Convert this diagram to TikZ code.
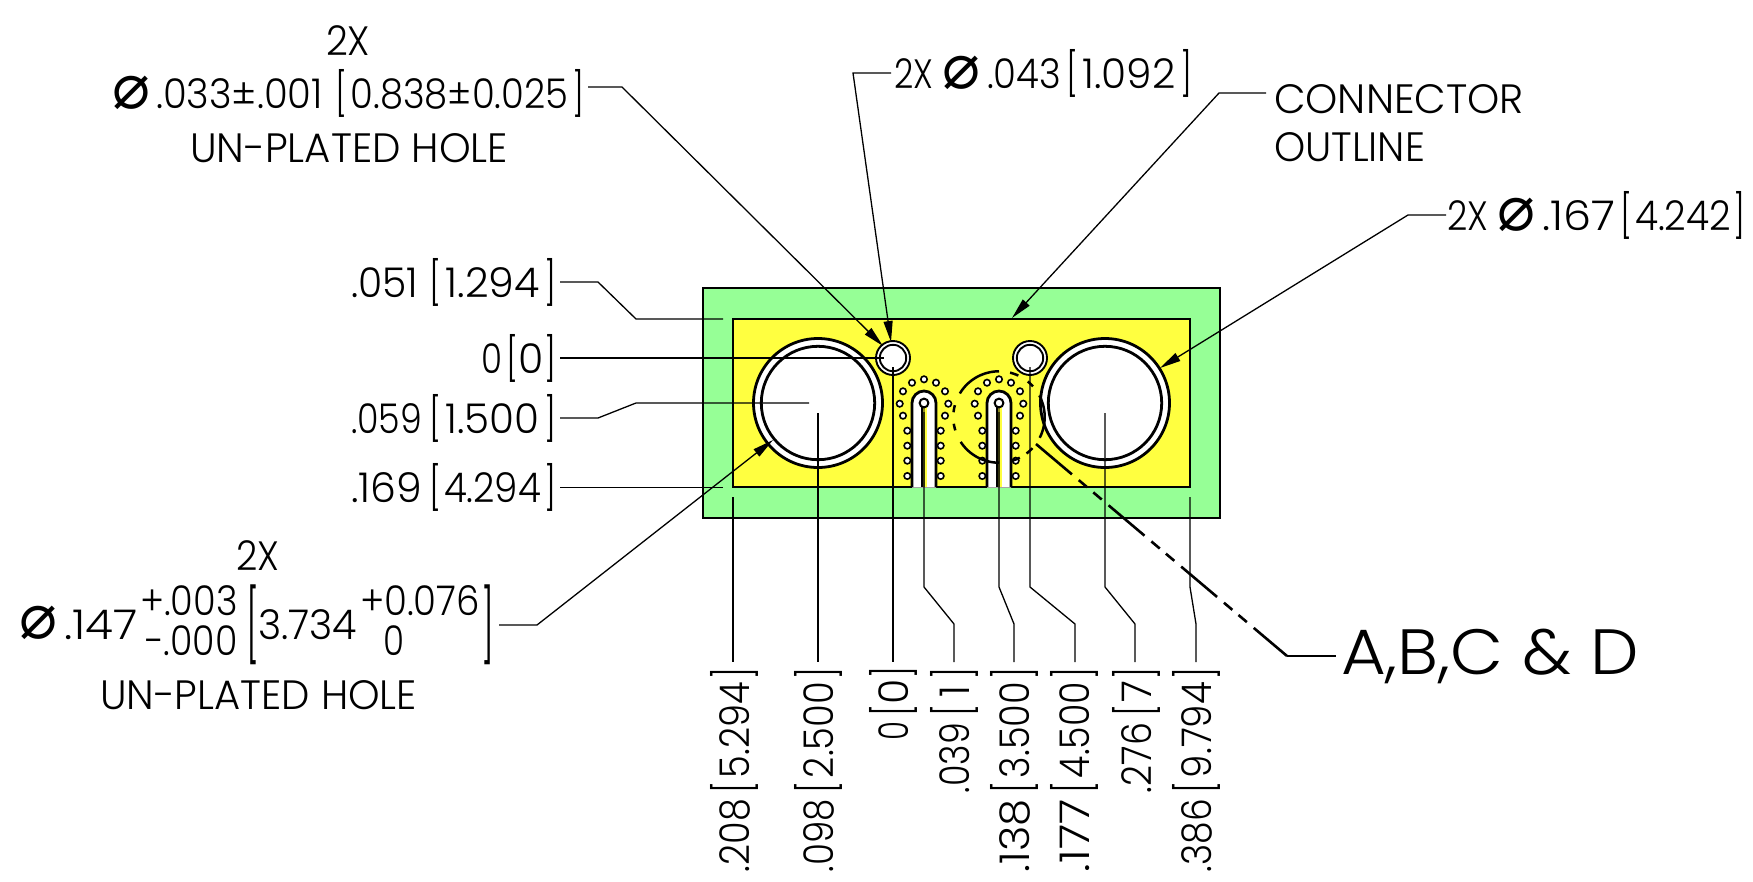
\documentclass[tikz,border=0pt]{standalone}
\usepackage{fontspec}
\usepackage{graphicx}
\usetikzlibrary{arrows.meta}
\setmainfont{Poppins}[UprightFont=* Light]
\newfontfamily\phifont{DejaVu Sans}
\definecolor{pcbgreen}{HTML}{96FF96}
\definecolor{pcbyellow}{HTML}{FFFF40}
\definecolor{stemolive}{HTML}{8C8A20}
\tikzset{
  txt/.style={inner sep=0pt,outer sep=0pt,font=\fontsize{41}{41}\selectfont},
  thin line/.style={draw=black,line width=1.3pt},
  heavy/.style={draw=black,line width=2.8pt},
  leader/.style={thin line,-{Stealth[inset=0pt,length=21pt,width=9pt]}},
  cutdash/.style={draw=black,line width=2.6pt,dash pattern=on 47pt off 9pt on 11pt off 8pt on 11pt off 9pt},
}
\newsavebox\brkbox
\newcommand\tallglyph[4]{\sbox\brkbox{\resizebox*{#2}{#3}{#1}}\raisebox{\dimexpr\dp\brkbox-#4\relax}{\usebox\brkbox}}
% \Br{total width}{inner width}{text}
\newcommand\Br[3]{\hbox to #1pt{\kern-4pt\tallglyph{[}{12pt}{48pt}{9pt}\hfil\resizebox{#2pt}{\height}{#3}\hfil\tallglyph{]}{12pt}{48pt}{9pt}\kern-4pt}}
\newcommand\BrN[2]{\hbox to #1pt{\kern-4pt\tallglyph{[}{12pt}{48pt}{9pt}\hfil #2\hfil\tallglyph{]}{12pt}{48pt}{9pt}\kern-4pt}}
\newcommand\lb[5]{\node[txt,anchor=base west] (#1) at (#2,#3) {\resizebox{#4pt}{\height}{#5}};}
\newcommand\lbr[5]{\node[txt,anchor=base west] (#1) at (#2,#3) {#5};}
\newcommand\rb[5]{\node[txt,anchor=base west,rotate=90] (#1) at (#2,#3) {\resizebox{#4pt}{\height}{#5}};}
\newcommand\rbr[4]{\node[txt,anchor=base west,rotate=90] (#1) at (#2,#3) {#4};}
\newcommand\phisym[3]{\node[txt] (#1) at (#2,#3) {\resizebox{38pt}{!}{\phifont ⌀}};}
\newcommand\slotgroup[1]{%
  \begin{scope}[shift={(#1,403)}]
    \foreach \dx/\dy in {0/-23.7,-12/-20.3,12/-20.3,-21/-11.7,21/-11.7,-24.3/0.7,24.3/0.7,-21/12.7,21/12.7,-16.7/27.7,16.7/27.7,-16.7/42.7,16.7/42.7,-16.7/57.7,16.7/57.7,-16.7/73,16.7/73}
      \draw[fill=white,line width=1.6pt] (\dx,\dy) circle[radius=3.2pt];
    \fill[white] (-12,84.5) -- (-12,0) arc[start angle=180,end angle=0,radius=12pt] -- (12,84.5) -- cycle;
    \draw[heavy] (-12,84) -- (-12,0) arc[start angle=180,end angle=0,radius=12pt] -- (12,84);
    \fill[stemolive] (-2.8,3) rectangle (2.8,84);
    \fill[pcbyellow] (1,3) rectangle (2.8,84);
    \draw[line width=1.5pt] (-2.2,3) -- (-2.2,84);
    \draw[fill=white,line width=2pt] (0,0) circle[radius=4.4pt];
  \end{scope}}
\begin{document}
\begin{tikzpicture}[x=1pt,y=-1pt]
\useasboundingbox (0,0) rectangle (1753,881);
% board
\draw[heavy,fill=pcbgreen] (703,288) rectangle (1220,518);
\draw[heavy,fill=pcbyellow] (733,319) rectangle (1190,487);
\foreach \cx in {818,1105}{
  \draw[heavy,fill=white] (\cx,403) circle[radius=64.5pt];
  \draw[heavy,fill=white] (\cx,403) circle[radius=56.7pt];}
\foreach \cx in {893,1030}{
  \draw[line width=1.9pt,fill=white] (\cx,358) circle[radius=17pt];
  \draw[line width=1.9pt,fill=white] (\cx,358) circle[radius=13.2pt];}
\slotgroup{924}
\slotgroup{999}
% detail circle
\foreach \a/\b in {90/149,165/174,188.5/197,213/270,286/297,307/317,333/388,402/411,425/436}
  \draw[heavy,line width=2.5pt,domain=\a:\b,samples=24] plot ({999+45.7*cos(\x)},{417-45.7*sin(\x)});
% horizontal witness leaders
\coordinate (w1a) at (560,282); \coordinate (w1b) at (598,282); \coordinate (w1c) at (636,319); \coordinate (w1d) at (723,319);
\draw[thin line] (w1a) -- (w1b) -- (w1c) -- (w1d);
\coordinate (w2a) at (560,358); \coordinate (w2d) at (884,358);
\draw[thin line] (w2a) -- (w2d);
\coordinate (w3a) at (560,418); \coordinate (w3b) at (598,418); \coordinate (w3c) at (636,403); \coordinate (w3d) at (809,403);
\draw[thin line] (w3a) -- (w3b) -- (w3c) -- (w3d);
\coordinate (w4a) at (560,487.5); \coordinate (w4d) at (723,487.5);
\draw[thin line] (w4a) -- (w4d);
% vertical witness leaders
\foreach \n/\sx/\sy/\ex in {a/733/497/733,b/818/413/818,c/893/367/893}{
  \coordinate (v\n s) at (\sx,\sy); \coordinate (v\n e) at (\ex,662);
  \draw[thin line] (v\n s) -- (v\n e);}
\foreach \n/\sx/\sy/\ex in {d/924/412/954,e/999/412/1014,f/1030/367/1075,g/1105/413/1135,h/1190/497/1196}{
  \coordinate (v\n s) at (\sx,\sy); \coordinate (v\n k) at (\sx,587); \coordinate (v\n l) at (\ex,624); \coordinate (v\n e) at (\ex,662);
  \draw[thin line] (v\n s) -- (v\n k) -- (v\n l) -- (v\n e);}
% arrow leaders
\coordinate (l1a) at (588,87); \coordinate (l1b) at (622,87); \coordinate (l1c) at (883,346);
\draw[leader] (l1a) -- (l1b) -- (l1c);
\coordinate (l2a) at (891,73); \coordinate (l2b) at (853,73); \coordinate (l2c) at (891,342);
\draw[leader] (l2a) -- (l2b) -- (l2c);
\coordinate (l3a) at (1266,93); \coordinate (l3b) at (1219,93); \coordinate (l3c) at (1012,318);
\draw[leader] (l3a) -- (l3b) -- (l3c);
\coordinate (l4a) at (1446,215); \coordinate (l4b) at (1408,215); \coordinate (l4c) at (1160,368);
\draw[leader] (l4a) -- (l4b) -- (l4c);
\coordinate (l5a) at (499,625); \coordinate (l5b) at (537,625); \coordinate (l5c) at (773,440);
\draw[leader] (l5a) -- (l5b) -- (l5c);
% detail leader
\coordinate (d1) at (1036,444); \coordinate (d2) at (1287,656); \coordinate (d3) at (1336,656);
\draw[cutdash] (d1) -- (d2);
\draw[heavy,line width=2.5pt] (d2) -- (d3);
% top-left callout
\lb{t1}{326}{55}{44}{2X}
\phisym{p1}{131}{93}
\lb{t2}{156}{108}{167}{.033±.001}
\lbr{t3}{339}{108}{241}{\Br{241}{218}{0.838±0.025}}
\lb{t4}{190}{162}{318}{UN-PLATED HOLE}
% top callouts
\lb{t5}{894}{88}{39}{2X}
\phisym{p2}{961}{73}
\lb{t6}{987}{88}{74}{.043}
\lbr{t7}{1070}{88}{118}{\Br{118}{93}{1.092}}
\lb{t8}{1274}{113}{250}{CONNECTOR}
\lb{t9}{1274}{161}{151}{OUTLINE}
\lb{t10}{1447}{230}{41}{2X}
\phisym{p3}{1516}{215}
\lb{t11}{1542}{230}{73}{.167}
\lbr{t12}{1624.5}{230}{117}{\Br{117}{96}{4.242}}
% left dimensions
\lb{t13}{351}{297}{67}{.051}
\lbr{t14}{433}{297}{119}{\Br{119}{94}{1.294}}
\lb{t15}{481}{373}{21}{0}
\lbr{t16}{510}{373}{42}{\BrN{42}{0}}
\lb{t17}{351}{433}{71}{.059}
\lbr{t18}{433}{433}{119}{\Br{119}{94}{1.500}}
\lb{t19}{351}{502}{71}{.169}
\lbr{t20}{433}{502}{119}{\Br{119}{97}{4.294}}
% lower-left callout
\lb{t21}{236}{570}{43}{2X}
\phisym{p4}{38.6}{623}
\lb{t22}{64}{639}{73.5}{.147}
\lb{t23}{140}{615}{97.5}{+.003}
\lb{t24}{145}{655}{92.5}{-.000}
\node[txt,anchor=south west] (b1) at (246,665) {\resizebox*{13pt}{80pt}{[}};
\lb{t25}{258}{639}{99}{3.734}
\lb{t26}{360}{615}{120}{+0.076}
\lb{t27}{383}{655}{21}{0}
\node[txt,anchor=south east] (b2) at (494,665) {\resizebox*{13pt}{80pt}{]}};
\lb{t28}{100}{709}{317}{UN-PLATED HOLE}
% detail label
\node[txt,anchor=base west,font=\fontsize{64}{64}\selectfont] (t29) at (1341,674) {\resizebox{298pt}{\height}{A,B,C \& D}};
% bottom dimensions
\rb{r1}{749}{872}{73}{.208}
\rbr{r2}{749}{789}{\Br{118}{96}{5.294}}
\rb{r3}{833}{872}{73}{.098}
\rbr{r4}{833}{789}{\Br{118}{96}{2.500}}
\rb{r5}{908.6}{740}{19}{0}
\rbr{r6}{908.6}{712}{\BrN{41}{0}}
\rb{r7}{969}{793}{70}{.039}
\rbr{r8}{969}{712}{\BrN{41}{1}}
\rb{r9}{1029}{872}{73}{.138}
\rbr{r10}{1029}{789}{\Br{118}{96}{3.500}}
\rb{r11}{1089}{872}{73}{.177}
\rbr{r12}{1089}{789}{\Br{118}{96}{4.500}}
\rb{r13}{1151}{793}{70}{.276}
\rbr{r14}{1151}{712}{\BrN{41}{7}}
\rb{r15}{1211}{872}{73}{.386}
\rbr{r16}{1211}{789}{\Br{118}{96}{9.794}}
\end{tikzpicture}
\end{document}
